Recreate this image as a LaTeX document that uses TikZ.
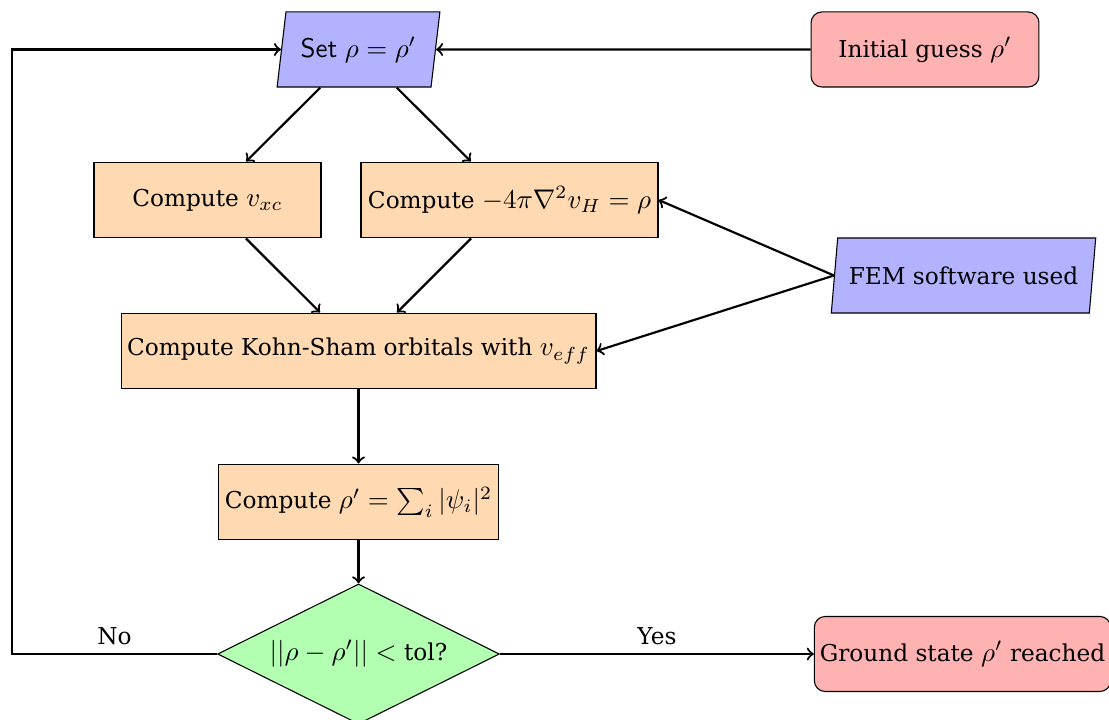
\documentclass[tikz,border=0pt]{standalone}
\usepackage[no-math]{fontspec}
\setmainfont{DejaVu Serif}[Scale=0.86]
\usetikzlibrary{shapes.geometric}

\tikzset{
  procbox/.style={draw, thin, fill=orange!30, minimum height=28.1pt, inner sep=2pt, align=center},
  termbox/.style={draw, thin, fill=red!30, rounded corners=4pt, minimum height=27.8pt, inner sep=2pt, align=center},
  iobox/.style={trapezium, trapezium left angle=78, trapezium right angle=102,
    trapezium stretches=true, draw, thin, fill=blue!30, minimum height=27.8pt, inner sep=2pt},
  decbox/.style={diamond, aspect=2, draw, thin, fill=green!30, inner sep=0pt,
    minimum width=104.4pt, minimum height=51.9pt},
  link/.style={thick, ->},
}

\begin{document}
\begin{tikzpicture}[x=0.37037pt, y=-0.37037pt]
\useasboundingbox (0,0) rectangle (1109,720);

% process nodes
\node[iobox, minimum width=60.4pt] (set) at (358.5,49.5) {{\sffamily Set} $\rho = \rho'$};
\node[termbox, minimum width=84.4pt] (init) at (925,49.5) {Initial guess $\rho'$};
\node[procbox, minimum width=84.1pt] (vxc) at (207.5,200) {Compute $v_{xc}$};
\node[procbox, minimum width=110pt] (hart) at (509.5,200) {Compute $-4\pi\nabla^2 v_H = \rho$};
\node[iobox, minimum width=98.9pt] (fem) at (963.5,275.5) {FEM software used};
\node[procbox, minimum width=175.9pt] (ks) at (358.5,351) {Compute Kohn-Sham orbitals with $v_{eff}$};
\node[procbox, minimum width=103.7pt] (dens) at (358.5,502) {Compute $\rho' = \sum_i |\psi_i|^2$};
\node[decbox] (dec) at (358.5,654) {$||\rho - \rho'|| <$ tol?};
\node[termbox, minimum width=108.9pt] (ground) at (962.5,654) {Ground state $\rho'$ reached};

\coordinate (loop) at (12,654);

% connectors
\draw[link] (init) -- (set);
\draw[link] (set) -- (vxc);
\draw[link] (set) -- (hart);
\draw[link] (vxc) -- (ks);
\draw[link] (hart) -- (ks);
\draw[link] (fem.west) -- (hart.east);
\draw[link] (fem.west) -- (ks.east);
\draw[link] (ks) -- (dens);
\draw[link] (dens) -- (dec);
\draw[link] (dec) -- node[midway, above] {Yes} (ground);
\draw[link] (dec.west) -- node[midway, above] {No} (loop) |- (set.west);
\end{tikzpicture}
\end{document}
